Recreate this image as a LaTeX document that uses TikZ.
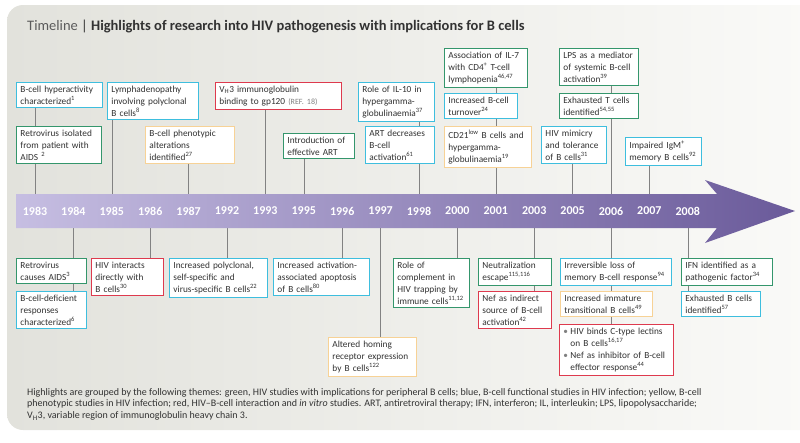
\documentclass[tikz,border=0pt]{standalone}
\usepackage{fontspec}
\setmainfont{Carlito}
\usetikzlibrary{positioning}
\pgfdeclarelayer{background}
\pgfsetlayers{background,main}
\definecolor{thgreen}{RGB}{52,150,108}
\definecolor{thblue}{RGB}{62,190,222}
\definecolor{thyellow}{RGB}{247,210,150}
\definecolor{thred}{RGB}{222,58,78}
\definecolor{txt}{RGB}{50,50,50}
\definecolor{panello}{RGB}{226,226,220}
\definecolor{panelhi}{RGB}{251,251,249}
\definecolor{bandlo}{RGB}{198,190,226}
\definecolor{bandhi}{RGB}{106,90,154}
\definecolor{linkgray}{RGB}{130,130,130}
\newcommand\citeno[1]{\textsuperscript{#1}}
\newcommand\bul{\makebox[7pt][l]{\textcolor{gray}{\textbullet}}}
\newcommand\boxfont{\fontsize{9.3}{12}\selectfont\hyphenpenalty=10000\relax\exhyphenpenalty=10000\relax}
\tikzset{
  box/.style={draw, fill=white, line width=0.9pt, align=left, anchor=north west,
    inner xsep=4pt, inner ysep=3.3pt, text=txt, font=\boxfont},
  hgreen/.style={box, draw=thgreen},
  hblue/.style={box, draw=thblue},
  hyellow/.style={box, draw=thyellow},
  hred/.style={box, draw=thred},
  yearlbl/.style={text=white, font=\fontsize{12}{14}\selectfont\bfseries},
  link/.style={draw=linkgray, line width=0.6pt}
}
\begin{document}
\begin{tikzpicture}[x=1pt, y=-1pt]
\useasboundingbox (0,0) rectangle (800,442);
\path (16,194) coordinate (bandtop) (16,228) coordinate (bandbot);
% title
\node[anchor=west, font=\fontsize{14.5}{16}\selectfont, text=txt, inner sep=0] (title) at (27,26)
  {\textcolor{txt!80}{Timeline} | \textbf{Highlights of research into HIV pathogenesis with implications for B cells}};
% years
\foreach \yr [count=\i from 0] in {1983,1984,1985,1986,1987,1992,1993,1995,1996,1997,1998,2000,2001,2003,2005,2006,2007,2008}
  \node[yearlbl] (y\yr) at ({35+38.4*\i},211) {\yr};
% above the band
\node[hblue, text width=78pt] (hyper) at (16,82) {B-cell hyperactivity\\characterized\citeno{1}};
\node[hgreen, text width=77pt] (isol) at (16,126) {Retrovirus isolated\\from patient with\\AIDS \citeno{2}};
\node[hblue, text width=83pt] (lymph) at (107,82) {Lymphadenopathy\\involving polyclonal\\B cells\citeno{8}};
\node[hyellow, text width=81pt] (pheno) at (145,126) {B-cell phenotypic\\alterations\\identified\citeno{27}};
\node[hred, text width=118pt] (vh) at (215,82) {V\textsubscript{H}3 immunoglobulin\\binding to gp120 \textcolor{gray}{\footnotesize(REF.~18)}};
\node[hgreen, text width=63pt] (art) at (283,133) {Introduction of\\effective ART};
\node[hblue, text width=68pt] (ilten) at (358,82) {Role of IL-10 in\\hypergamma-\\globulinaemia\citeno{37}};
\node[hblue, text width=61pt] (artdec) at (365,126) {ART decreases\\B-cell\\activation\citeno{61}};
\node[hgreen, text width=75pt] (ilseven) at (444,48) {Association of IL-7\\with CD4\textsuperscript{+} T-cell\\lymphopenia\citeno{46,47}};
\node[hblue, text width=65pt] (turn) at (444,93) {Increased B-cell\\turnover\citeno{24}};
\node[hyellow, text width=79pt] (cdlow) at (444,126) {CD21\textsuperscript{low} B cells and\\hypergamma-\\globulinaemia\citeno{19}};
\node[hblue, text width=57pt] (mimic) at (541,126) {HIV mimicry\\and tolerance\\of B cells\citeno{31}};
\node[hgreen, text width=71pt] (lps) at (559,48) {LPS as a mediator\\of systemic B-cell\\activation\citeno{39}};
\node[hgreen, text width=71pt] (exht) at (559,93) {Exhausted T cells\\identified\citeno{54,55}};
\node[hblue, text width=68pt] (igm) at (625,137) {Impaired IgM\textsuperscript{+}\\memory B cells\citeno{92}};
% below the band
\node[hgreen, text width=62pt] (causes) at (16,258) {Retrovirus\\causes AIDS\citeno{3}};
\node[hblue, text width=62pt] (defic) at (16,291) {B-cell-deficient\\responses\\characterized\citeno{6}};
\node[hred, text width=64pt] (inter) at (91,258) {HIV interacts\\directly with\\B cells\citeno{30}};
\node[hblue, text width=90pt] (poly) at (169,258) {Increased polyclonal,\\self-specific and\\virus-specific B cells\citeno{22}};
\node[hblue, text width=88pt] (apop) at (273,258) {Increased activation-\\associated apoptosis\\of B cells\citeno{80}};
\node[hyellow, text width=80pt] (homing) at (328,337) {Altered homing\\receptor expression\\by B cells\citeno{122}};
\node[hgreen, text width=68pt] (compl) at (393,258) {Role of\\complement in\\HIV trapping by\\immune cells\citeno{11,12}};
\node[hgreen, text width=65pt] (neut) at (478,258) {Neutralization\\escape\citeno{115,116}};
\node[hred, text width=65pt] (nefind) at (478,291) {Nef as indirect\\source of B-cell\\activation\citeno{42}};
\node[hblue, text width=103pt] (irrev) at (560,258) {Irreversible loss of\\memory B-cell response\citeno{94}};
\node[hyellow, text width=84pt] (trans) at (560,291) {Increased immature\\transitional B cells\citeno{49}};
\node[hred, text width=106pt] (lectin) at (559,324) {\bul HIV binds C-type lectins\\\hspace*{7pt}on B cells\citeno{16,17}\\\bul Nef as inhibitor of B-cell\\\hspace*{7pt}effector response\citeno{44}};
\node[hgreen, text width=83pt] (ifn) at (681,258) {IFN identified as a\\pathogenic factor\citeno{34}};
\node[hblue, text width=71pt] (exhb) at (681,291) {Exhausted B cells\\identified\citeno{57}};
% legend
\node[anchor=north west, align=left, inner sep=0, text=txt, font=\fontsize{10}{11.7}\selectfont] (note) at (27,388)
  {Highlights are grouped by the following themes: green, HIV studies with implications for peripheral B cells; blue, B-cell functional studies in HIV infection; yellow, B-cell\\
   phenotypic studies in HIV infection; red, HIV--B-cell interaction and \textit{in vitro} studies. ART, antiretroviral therapy; IFN, interferon; IL, interleukin; LPS, lipopolysaccharide;\\
   V\textsubscript{H}3, variable region of immunoglobulin heavy chain 3.};
\begin{pgfonlayer}{background}
\shade[left color=panello, right color=panelhi, rounded corners=16pt] (7,5) rectangle (840,430);
\foreach \yr/\bx in {1983/hyper, 1985/lymph, 1987/pheno, 1993/vh, 1995/art, 1998/ilten, 2001/ilseven, 2005/mimic, 2006/lps, 2007/igm}
  \draw[link] (y\yr |- bandtop) -- (y\yr |- \bx.south);
\foreach \yr/\bx in {1984/defic, 1986/inter, 1992/poly, 1996/apop, 1997/homing, 2000/compl, 2003/nefind, 2006/lectin, 2008/exhb}
  \draw[link] (y\yr |- bandbot) -- (y\yr |- \bx.north);
\shade[left color=bandlo, right color=bandhi] (bandtop) -- (717,194) -- (705,180) -- (795,211)
  -- (705,243) -- (717,228) -- (bandbot) -- cycle;
\end{pgfonlayer}
\end{tikzpicture}
\end{document}
